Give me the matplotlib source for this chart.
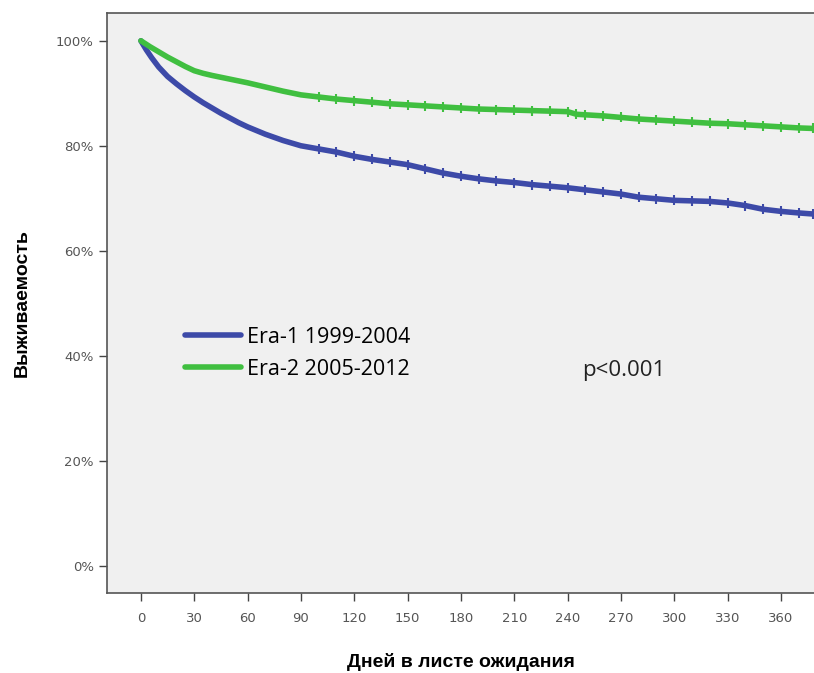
import numpy as np
import matplotlib.pyplot as plt

# Данные кривых выживаемости (дни, %)
days_era1 = [0, 3, 6, 10, 15, 20, 25, 30, 35, 40, 45, 50, 55, 60, 70, 80, 90, 100, 110,
             120, 130, 140, 150, 160, 170, 180, 190, 200, 210, 220, 230, 240, 250, 260,
             270, 280, 290, 300, 310, 320, 330, 340, 350, 360, 370, 378]
surv_era1 = [100, 98.3, 96.8, 95.0, 93.2, 91.8, 90.5, 89.3, 88.2, 87.2, 86.2, 85.3, 84.4,
             83.6, 82.2, 81.0, 80.0, 79.4, 78.8, 78.0, 77.4, 76.9, 76.4, 75.6, 74.8, 74.2,
             73.7, 73.3, 73.0, 72.6, 72.3, 72.0, 71.6, 71.2, 70.8, 70.2, 69.9, 69.6, 69.5,
             69.4, 69.1, 68.6, 67.9, 67.5, 67.2, 67.0]

days_era2 = [0, 5, 10, 15, 20, 25, 30, 35, 40, 50, 60, 70, 80, 90, 100, 110, 120, 130,
             140, 150, 160, 170, 180, 190, 200, 210, 220, 230, 240, 245, 250, 260, 270,
             280, 290, 300, 310, 320, 330, 340, 350, 360, 370, 378]
surv_era2 = [100, 98.9, 97.9, 96.9, 96.0, 95.1, 94.3, 93.8, 93.4, 92.7, 92.0, 91.2, 90.4,
             89.7, 89.3, 88.9, 88.6, 88.3, 88.0, 87.8, 87.6, 87.4, 87.2, 87.0, 86.9, 86.8,
             86.7, 86.6, 86.5, 86.0, 85.9, 85.7, 85.4, 85.1, 84.9, 84.7, 84.5, 84.3, 84.2,
             84.0, 83.8, 83.6, 83.4, 83.3]

labels = ['Era-1 1999-2004', 'Era-2 2005-2012']
x_ticks = list(range(0, 361, 30))
y_ticks = [0, 20, 40, 60, 80, 100]

blue = '#3d4aa8'
green = '#40bf40'

fig = plt.figure(figsize=(8.14, 6.73), dpi=100)
ax = fig.add_axes([0.1314, 0.119, 0.8686, 0.8617])
ax.set_facecolor('#f0f0f0')

ax.plot(days_era1, surv_era1, color=blue, lw=4, marker='|', ms=7, mew=1.5,
        markevery=list(range(17, len(days_era1))), label=labels[0], solid_capstyle='round')
ax.plot(days_era2, surv_era2, color=green, lw=4, marker='|', ms=7, mew=1.5,
        markevery=list(range(14, len(days_era2))), label=labels[1], solid_capstyle='round')

ax.set_xlim(-19.1, 378.6)
ax.set_ylim(-5.2, 105.3)
ax.set_xticks(x_ticks)
ax.set_xticklabels([str(t) for t in x_ticks])
ax.set_yticks(y_ticks)
ax.set_yticklabels([f'{t}%' for t in y_ticks])
ax.tick_params(axis='both', direction='out', length=6, width=1, color='#444444',
               labelcolor='#555555', labelsize=9.5)
ax.tick_params(axis='x', pad=8)

for s in ['left', 'top', 'bottom']:
    ax.spines[s].set_color('#555555')
    ax.spines[s].set_linewidth(1.2)
ax.spines['right'].set_visible(False)

ax.set_xlabel('Дней в листе ожидания', fontsize=14, fontweight='bold',
              family='Liberation Sans', labelpad=20)
ax.set_ylabel('Выживаемость', fontsize=14, fontweight='bold',
              family='Liberation Sans', labelpad=18)

leg = ax.legend(loc='center left', bbox_to_anchor=(0.083, 0.413), frameon=False,
                handlelength=2.6, handletextpad=0.3, labelspacing=0.5,
                prop={'family': 'Open Sans', 'size': 15.5})
for line in leg.get_lines():
    line.set_linewidth(4)
    line.set_marker('')

ax.text(0.672, 0.384, 'p<0.001', transform=ax.transAxes, fontsize=16,
        family='Open Sans', va='center', ha='left', color='#222222')

fig.savefig('out.png', dpi=100)
